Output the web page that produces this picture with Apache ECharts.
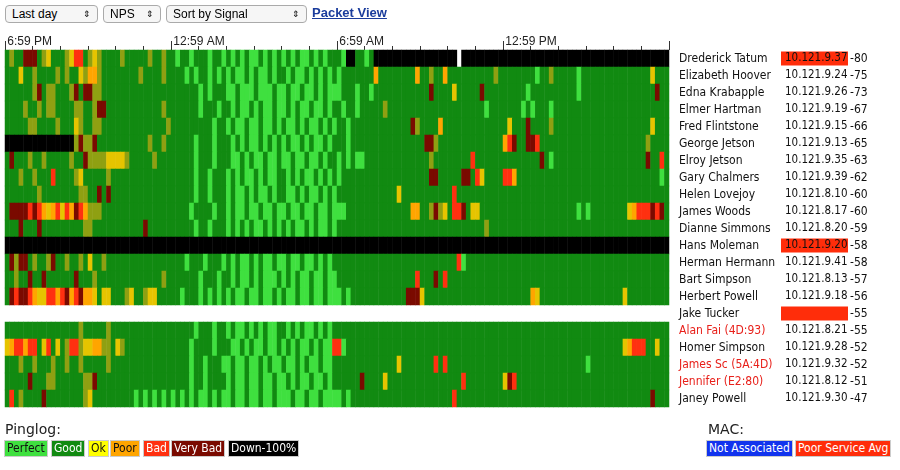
<!DOCTYPE html>
<html>
<head>
<meta charset="utf-8">
<title>pinglog</title>
<script src="https://cdn.jsdelivr.net/npm/echarts@6/dist/echarts.min.js"></script>
<style>
body{margin:0;font-family:"DejaVu Sans",sans-serif;background:#fff;}
#main{position:absolute;left:0;top:0;width:900px;height:470px;}
.ctl{position:absolute;top:5px;height:18px;font-size:12px;border:1px solid #aaa;border-radius:4px;background:#f6f6f6;padding:0 0 0 6px;box-sizing:border-box;line-height:16px;font-family:"Liberation Sans",sans-serif}
.ctl span{position:absolute;right:6px;font-size:9px}
#pv{position:absolute;left:312px;top:5px;font:bold 13px "Liberation Sans",sans-serif;color:#1a3c9c;text-decoration:underline}
.lg{position:absolute;font-size:14px;color:#222}
.bx{position:absolute;font-size:12px;line-height:15px;padding:0 2px;border:1px solid #ccc;font-family:"DejaVu Sans Condensed",sans-serif}
</style>
<script type="text/javascript">
	// ----- data -----
	var tickLabels = ['6:59 PM', '12:59 AM', '6:59 AM', '12:59 PM'];
	var names = ['Drederick Tatum','Elizabeth Hoover','Edna Krabapple','Elmer Hartman','Fred Flintstone','George Jetson','Elroy Jetson','Gary Chalmers','Helen Lovejoy','James Woods','Dianne Simmons','Hans Moleman','Herman Hermann','Bart Simpson','Herbert Powell','Jake Tucker','Alan Fai (4D:93)','Homer Simpson','James Sc (5A:4D)','Jennifer (E2:80)','Janey Powell'];
	var ips = ['10.121.9.37','10.121.9.24','10.121.9.26','10.121.9.19','10.121.9.15','10.121.9.13','10.121.9.35','10.121.9.39','10.121.8.10','10.121.8.17','10.121.8.20','10.121.9.20','10.121.9.41','10.121.8.13','10.121.9.18','','10.121.8.21','10.121.9.28','10.121.9.32','10.121.8.12','10.121.9.30'];
	var signals = [-80,-75,-73,-67,-66,-65,-63,-62,-60,-60,-59,-58,-58,-57,-56,-55,-55,-52,-52,-51,-47];
	var poorService = [1,0,0,0,0,0,0,0,0,0,0,1,0,0,0,1,0,0,0,0,0];
	var redName = [0,0,0,0,0,0,0,0,0,0,0,0,0,0,0,0,1,0,1,1,0];
	// one char per 10 minutes: P perfect, g good, y olive, o ok, p poor, b bad, v very bad, d down, . none
	var rows = [
		'gyggvvvgyogg'+'gyobbgyoyggg'+'gygggggyggyg'+'gPggPgggPggP'+'gPgPgPPgPgPg'+'PgPgPPgPgPgg'+'gPddggPgdddd'+'dddddddddddd'+'dd.ddddddddd'+'dddddddddddd'+'dddddddddddd'+'dddddddddddd',
		'gggoggyggggy'+'gyggoyppyggg'+'gggggyggggyg'+'gggPgPggPgPg'+'PgPPgPgPPgPg'+'gPgPPgPgPgPg'+'Pgggggggpggg'+'gggggpggyggp'+'ggggggggggyg'+'gggggggPggyg'+'ggggPggggggg'+'ggggggggoggg',
		'ggggggyvgyyg'+'ggyvgvvyyggg'+'gggggggggggg'+'ggggggPgPggg'+'PPgPPPgPPPgP'+'PgPPgPPgPgPP'+'PgggPggPgggg'+'ggggggggvggg'+'gogggggvgggg'+'gggggPgggggg'+'ggggPggggggg'+'gggggggggvgg',
		'ggggyggygyyg'+'gggyyggyvvgg'+'ggggggggggyg'+'ggggggPgggPg'+'gPgPPgPgPPgP'+'PgPgPPgPPgPg'+'gPggPgggggyg'+'gggggggggggg'+'ggggggggPggg'+'ggggPgPgggPg'+'gggggggggggg'+'gggggggggggg',
		'gggggyyggggy'+'gggoyggyyggg'+'gggggggggggy'+'gggggggggPgg'+'PgPPgPPgPPgP'+'gPPgPgPPgPgP'+'ggPggggggggg'+'ggggvyggggpg'+'gggggggggggg'+'gogggvggggyg'+'gggggggggggg'+'ggggggggoggg',
		'dddddddddddd'+'dddyvyyvgggg'+'gggggggyggyg'+'gggggPgggPgg'+'gPgPgPPgPgPg'+'PgPPgPgPPgPg'+'ggPggggggggg'+'gggggggvvygg'+'gggggggggggg'+'pbvggvvbgggg'+'gggggggggggg'+'gggggggygggg',
		'gvgggyggyggg'+'ggyggvyyyyoo'+'ooygggggyggg'+'gggggPgggPgg'+'gPPgPgPPgPPg'+'PPgPPgPPgPgg'+'PgPgPPgggggg'+'ggggggggyggg'+'gggggbgggggg'+'ggggggggvgPg'+'gggggggggggg'+'gggggggvggbg',
		'gggyggygggbg'+'gggyogggggyg'+'gggggggggggg'+'gggggPggPggg'+'PgPgPPgPgPPg'+'gPgPgPPgPgPg'+'Pggggggggggg'+'ggggggggvvgg'+'gggvvgbogggg'+'bbpggggggggg'+'gggggggggggg'+'ggggggggggPg',
		'gggggggygggg'+'ggggyyggvgvg'+'gggggggggggg'+'gggggPggPggg'+'PgPPgPgPPgPg'+'gPPgPgPPgPgP'+'gggggggggggg'+'gogggggggggg'+'gbgggggggggg'+'gggggggggggg'+'gggggggggggg'+'gggggggggggg',
		'gvvvvbvbpopb'+'obpvbpyyyggg'+'gggggggggggg'+'ggggPggggPgg'+'PgPPgPPgPPgP'+'PgPPgPPgPPgP'+'PPgggggggggg'+'ggggppggyvyo'+'gbbvgooggggg'+'gggggggggggg'+'ggggPgPggggg'+'gggopbbbvbvg',
		'gggvgggvgggg'+'gggggyyggggg'+'ggggggvggggg'+'gggggPggPggg'+'PgPgPgPPgPgP'+'gPgPPgPgPPgP'+'gggggggggggg'+'gggggggggggg'+'ggggggggyggg'+'gggggggggggg'+'gggggggggggg'+'gggggggggggg',
		'dddddddddddd'+'dddddddddddd'+'dddddddddddd'+'dddddddddddd'+'dddddddddddd'+'dddddddddddd'+'dddddddddddd'+'dddddddddddd'+'dddddddddddd'+'dddddddddddd'+'dddddddddddd'+'dddddddddddd',
		'gvyvvgyggyvg'+'gyggygoggygg'+'gggggggggggg'+'gggPgggPgggP'+'gPgPPgPgPPgP'+'PgPPgPPgPgPg'+'gggggggggggg'+'gggggggggggg'+'ggbPgggggggg'+'gggggggggggg'+'gggggggggggg'+'gggggggggggg',
		'ggyggvggvggg'+'gggvgggygggg'+'ggggggggggyg'+'ggggggPgggPg'+'gPgPPgPgPPPg'+'PgPgPPgPPgPP'+'gggggggggggg'+'gggggbgggvgb'+'gggggggggggg'+'gggggggggggg'+'gggggggggggg'+'gggggggggggg',
		'gvbvvbpoobbp'+'bvpbvppogoog'+'ggyoggyooggg'+'ggPgggPgPgPg'+'PgPPgPPgPPgP'+'gPPgPPgPPgPP'+'PgPggggggggg'+'gggvvvoggggg'+'gggggggggggg'+'ggggggpogggg'+'gggggggggggg'+'ggoggggggggg',
		'............'+'............'+'............'+'............'+'............'+'............'+'............'+'............'+'............'+'............'+'............'+'............',
		'gggggggggggg'+'ggggygggggyg'+'gggggggggggg'+'gggggPgggPgg'+'PgPPgPgPgPPg'+'gPgPgPPgPgPg'+'gggggggggggg'+'gggggggggggg'+'gggggggggggg'+'gggggggggggg'+'gggggggggggg'+'gggggggggggg',
		'opbbpbbgobgo'+'gybbyooppyyg'+'oygggggggggg'+'ggggPggggPgg'+'gPPgPgPPgPPg'+'PgPgPPgPgPPb'+'bPgggggggggg'+'gggggggggggg'+'gggggggggggg'+'gggggggggggg'+'gggggggggggg'+'ggopbbbggogg',
		'gggyggygggyg'+'gyggygggggyg'+'gggggggggggg'+'ggggPggPgggP'+'PgPPgPPgPgPP'+'gPPgPgPPgPPg'+'gggggggggggg'+'gogggggggbgb'+'gggggggggggg'+'gggggggggggg'+'ggggggPggggg'+'gggggggggggg',
		'gggggvgggyyg'+'gggggyyvgggg'+'gggggggggggg'+'ggggPggPgggg'+'PgPPgPPgPPgP'+'PgPgPPgPPgPg'+'gggggvggggog'+'gggggggggggg'+'gggbgggggggg'+'ovbggggggggg'+'gggggggggggg'+'gggggggggggg',
		'gbgyggggvggg'+'gggggyoggggg'+'ggggPgPgPgPg'+'PgPgPgPPgPgP'+'PgPPgPPgPPgP'+'PPgPPgPPgPPP'+'PgPggggggggg'+'gggggggggggg'+'gbgggggggggg'+'gggggggggggg'+'gggggggggggg'+'ggggggggvggg'
	];
	var codes = 'Pgyopbvd';
	var colors = ['#3fe03f', '#118a11', '#8fa012', '#e6c400', '#ffa500', '#ff3010', '#7a0a00', '#000000'];

	$ready = function(){
		var chart = echarts.init(document.getElementById('main'));
		var cols = [];
		for (var c = 0; c < rows[0].length; c++) cols.push(c);
		var data = [];
		rows.forEach(function(r, ri){
			for (var c = 0; c < r.length; c++){
				var k = codes.indexOf(r[c]);
				if (k >= 0) data.push([c, ri, k]);
			}
		});
		var pieces = colors.map(function(col, i){ return {value: i, color: col}; });
		var option = {
			animation: false,
			grid: {left: 5, right: 231, top: 50, height: 357},
			visualMap: {type: 'piecewise', show: false, dimension: 2, pieces: pieces},
			xAxis: [{
				type: 'category', position: 'top', data: cols, boundaryGap: true,
				axisLine: {show: false},
				axisTick: {show: true, interval: 5, length: 4, lineStyle: {color: '#333'}},
				axisLabel: {show: false},
				splitLine: {show: false}
			}, {
				type: 'category', position: 'top', data: cols, boundaryGap: true,
				axisLine: {show: false},
				axisTick: {show: true, interval: 35, length: 9, lineStyle: {color: '#333'}},
				axisLabel: {
					interval: 35, align: 'left', margin: 2, color: '#222', fontSize: 12,
					fontFamily: 'Liberation Sans',
					formatter: function(v){ return tickLabels[Math.round(v / 36)]; }
				}
			}],
			yAxis: {
				type: 'category', inverse: true, position: 'right',
				data: names.map(function(n, i){ return i; }),
				axisLine: {show: false}, axisTick: {show: false}, splitLine: {show: false},
				axisLabel: {
					margin: 10, align: 'left',
					formatter: function(v){
						var i = +v;
						var n = redName[i] ? '{r|' + names[i] + '}' : '{n|' + names[i] + '}';
						var ip = poorService[i] ? '{ipr|' + (ips[i] || ' ') + '}' : '{ip|' + ips[i] + '}';
						return n + ip + '{s|' + signals[i] + '}';
					},
					rich: {
						n: {width: 102, fontSize: 12, color: '#111', fontFamily: 'DejaVu Sans Condensed'},
						r: {width: 102, fontSize: 12, color: '#e8201a', fontFamily: 'DejaVu Sans Condensed'},
						ip: {width: 63, fontSize: 11.5, color: '#111', fontFamily: 'DejaVu Sans Condensed', padding: [1, 0, 1, 4]},
						ipr: {width: 63, fontSize: 11.5, color: '#111', fontFamily: 'DejaVu Sans Condensed', backgroundColor: '#ff2d0a', padding: [1, 0, 1, 4]},
						s: {fontSize: 12, color: '#111', fontFamily: 'DejaVu Sans Condensed', padding: [0, 0, 0, 2]}
					}
				}
			},
			series: [{
				type: 'heatmap', xAxisIndex: 0, data: data,
				itemStyle: {borderWidth: 0},
				emphasis: {disabled: true}
			}]
		};
		chart.setOption(option);
	};
	window.onload = function(){ $ready(); };
</script>
</head>
<body>
<div id="main"></div>
<div class="ctl" style="left:5px;width:93px">Last day<span>&#8661;</span></div>
<div class="ctl" style="left:103px;width:58px">NPS<span>&#8661;</span></div>
<div class="ctl" style="left:166px;width:141px">Sort by Signal<span>&#8661;</span></div>
<div id="pv">Packet View</div>
<div class="lg" style="left:5px;top:421px">Pinglog:</div>
<div class="bx" style="left:4px;top:440px;background:#3fe03f;color:#111">Perfect</div>
<div class="bx" style="left:51px;top:440px;background:#118a11;color:#fff">Good</div>
<div class="bx" style="left:88px;top:440px;background:#ffff00;color:#111">Ok</div>
<div class="bx" style="left:110px;top:440px;background:#ffa500;color:#111">Poor</div>
<div class="bx" style="left:143px;top:440px;background:#ff3010;color:#fff">Bad</div>
<div class="bx" style="left:171px;top:440px;background:#7a0a00;color:#fff">Very Bad</div>
<div class="bx" style="left:228px;top:440px;background:#000;color:#fff">Down-100%</div>
<div class="lg" style="left:708px;top:421px">MAC:</div>
<div class="bx" style="left:706px;top:440px;background:#1133ee;color:#fff">Not Associated</div>
<div class="bx" style="left:795px;top:440px;background:#ff2d0a;color:#fff">Poor Service Avg</div>
</body>
</html>
